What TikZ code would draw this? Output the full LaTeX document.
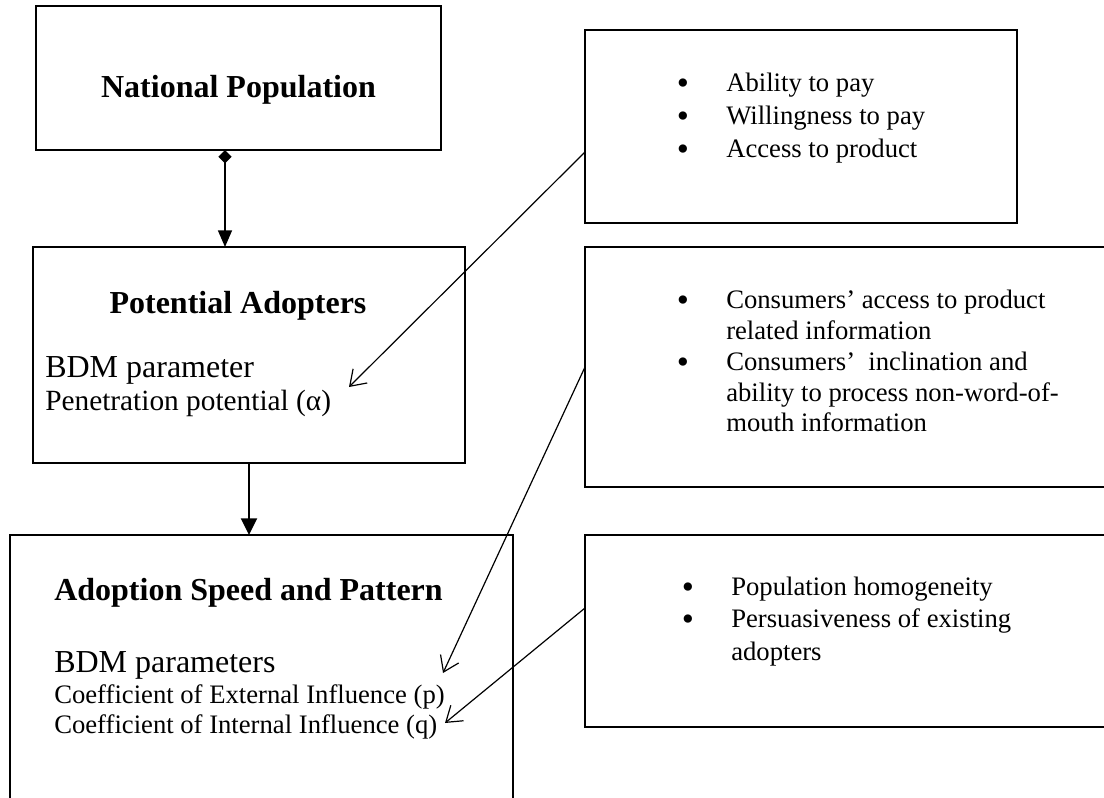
\documentclass[tikz,border=0pt]{standalone}
\usepackage{fontspec}
\setmainfont{Liberation Serif}
\usetikzlibrary{arrows.meta}
\begin{document}
\begin{tikzpicture}[x=0.75pt,y=-0.75pt,
  box/.style={draw, line width=1.2pt, inner sep=0pt, outer sep=0pt, anchor=north west},
  title/.style={font=\fontsize{24}{29}\selectfont\bfseries, inner sep=0pt},
  big/.style={font=\fontsize{24}{29}\selectfont, inner sep=0pt, anchor=base west},
  mid/.style={font=\fontsize{22}{26}\selectfont, inner sep=0pt, anchor=base west},
  small/.style={font=\fontsize{20}{24}\selectfont, inner sep=0pt, anchor=base west},
  bul/.style={font=\fontsize{26}{26}\selectfont, inner sep=0pt, anchor=base},
  flow/.style={line width=1.1pt},
  link/.style={line width=0.9pt, -{Straight Barb[length=11pt,width=15pt]}}
]
\useasboundingbox (0,0) rectangle (1104,797);

\begin{scope}
  \clip (0,0) rectangle (1104,797);
  % left column
  \node[box, minimum width=303.75pt, minimum height=108pt] (np) at (36,6) {};
  \node[box, minimum width=324pt, minimum height=162pt] (pa) at (33,247) {};
  \node[box, minimum width=377.25pt, minimum height=221.25pt] (asp) at (10,535) {};
  % right column
  \node[box, minimum width=324pt, minimum height=144.75pt] (r1) at (585,30) {};
  \node[box, minimum width=408.75pt, minimum height=180pt] (r2) at (585,247) {};
  \node[box, minimum width=408.75pt, minimum height=144pt] (r3) at (585,535) {};
\end{scope}

% national population
\node[title, anchor=base] (npt) at (238.5,97) {National Population};

% potential adopters
\node[title, anchor=base] (pat) at (238,313) {Potential Adopters};
\node[big] (pab) at (45,377) {BDM parameter};
\node[mid] (pap) at (45,410) {Penetration potential (α)};

% adoption speed and pattern
\node[title, anchor=base west] (aspt) at (54,600) {Adoption Speed and Pattern};
\node[big] (aspb) at (54,672) {BDM parameters};
\node[small] (aspp) at (54,703) {Coefficient of External Influence (p)};
\node[small] (aspq) at (54,733) {Coefficient of Internal Influence (q)};

% first factor list
\node[bul] (b11) at (683,94) {•};
\node[bul] (b12) at (683,127) {•};
\node[bul] (b13) at (683,160) {•};
\node[small] (t11) at (726,91) {Ability to pay};
\node[small] (t12) at (726,124) {Willingness to pay};
\node[small] (t13) at (726,157) {Access to product};

% second factor list
\node[bul] (b21) at (683,311) {•};
\node[bul] (b22) at (683,373) {•};
\node[small] (t21) at (726,308) {Consumers’ access to product};
\node[small] (t22) at (726,339) {related information};
\node[small] (t23) at (726,370) {Consumers’\ \ inclination and};
\node[small] (t24) at (726,401) {ability to process non-word-of-};
\node[small] (t25) at (726,431) {mouth information};

% third factor list
\node[bul] (b31) at (688,598) {•};
\node[bul] (b32) at (688,630) {•};
\node[small] (t31) at (731,595) {Population homogeneity};
\node[small] (t32) at (731,627) {Persuasiveness of existing};
\node[small] (t33) at (731,660) {adopters};

% arrow tips inside the parameter boxes
\coordinate (k) at (225,0);
\coordinate (alphaTip) at (349,387);
\coordinate (pTip) at (443,673);
\coordinate (qTip) at (445,723);

% main flow
\draw[flow, {Diamond[length=10pt,width=10pt]}-{Triangle[length=12.5pt,width=10.5pt]}]
  (np.south -| k) -- (pa.north -| k);
\draw[line width=1.5pt, -{Triangle[length=12.5pt,width=12pt]}]
  (pa.south) -- (pa.south |- asp.north);

% factor links
\draw[link] ([yshift=-19.125pt]r1.west) -- (alphaTip);
\draw[link] (r2.west) -- (pTip);
\draw[link] ([yshift=17.25pt]r3.west) -- (qTip);
\end{tikzpicture}
\end{document}
